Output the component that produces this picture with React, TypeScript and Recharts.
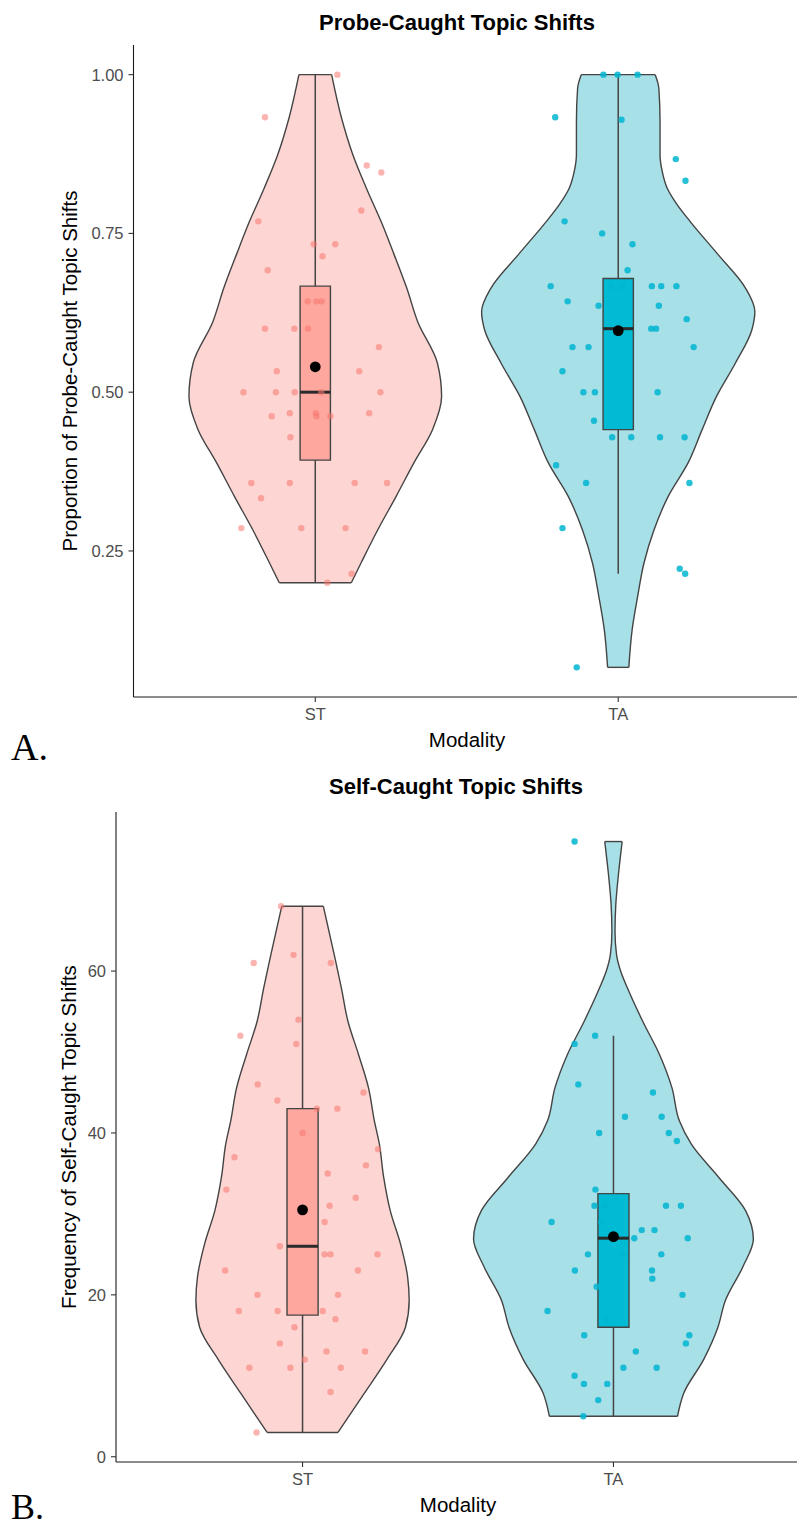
import React from "react";
import {
  ComposedChart,
  Area,
  Scatter,
  XAxis,
  YAxis,
  ReferenceArea,
  ReferenceLine,
} from "recharts";

// x axis groups, placed at 1 and 2 on a numeric axis
const modalities = ["ST", "TA"];

// ---------- A. Probe-caught topic shifts (proportion) ----------
const probeTicks = [0.25, 0.5, 0.75, 1.0];

// violin outlines: value, half width in group units
const probeViolinST_y = [1.0, 0.933, 0.874, 0.822, 0.769, 0.717, 0.664, 0.611, 0.546, 0.493, 0.441, 0.389, 0.336, 0.283, 0.231, 0.2];
const probeViolinST_w = [0.054, 0.086, 0.124, 0.168, 0.217, 0.26, 0.302, 0.338, 0.403, 0.417, 0.387, 0.326, 0.267, 0.206, 0.151, 0.119];
const probeViolinTA_y = [1.0, 0.979, 0.926, 0.874, 0.848, 0.822, 0.795, 0.769, 0.717, 0.664, 0.627, 0.598, 0.546, 0.493, 0.441, 0.389, 0.336, 0.283, 0.231, 0.178, 0.126, 0.0667];
const probeViolinTA_w = [0.122, 0.134, 0.138, 0.138, 0.145, 0.161, 0.195, 0.237, 0.329, 0.42, 0.451, 0.441, 0.387, 0.324, 0.277, 0.231, 0.165, 0.118, 0.085, 0.064, 0.046, 0.035];

// box plot summary, [ST, TA]
const probeLower = [0.2, 0.214];
const probeQ1 = [0.393, 0.441];
const probeMedian = [0.5, 0.6];
const probeQ3 = [0.667, 0.679];
const probeUpper = [1.0, 1.0];
const probeMean = [0.54, 0.597];

// jittered participants: horizontal jitter and value
const probeST_jitter = [0.073, -0.166, 0.17, 0.218, 0.152, -0.188, -0.005, 0.066, 0.024, -0.157, -0.025, 0.004, 0.021, -0.166, -0.069, -0.024, 0.21, -0.127, 0.145, -0.237, -0.13, -0.068, 0.02, 0.215, -0.144, -0.084, 0.002, 0.004, 0.05, 0.178, -0.082, -0.211, -0.084, 0.13, 0.237, -0.179, -0.244, -0.046, 0.1, 0.12, 0.04];
const probeST_vals = [1.0, 0.933, 0.857, 0.846, 0.786, 0.769, 0.733, 0.733, 0.714, 0.692, 0.643, 0.643, 0.643, 0.6, 0.6, 0.6, 0.571, 0.533, 0.533, 0.5, 0.5, 0.5, 0.5, 0.5, 0.462, 0.467, 0.467, 0.462, 0.462, 0.467, 0.429, 0.357, 0.357, 0.357, 0.357, 0.333, 0.286, 0.286, 0.286, 0.214, 0.2];
const probeTA_jitter = [-0.049, -0.002, 0.064, -0.208, 0.011, 0.19, 0.222, -0.177, -0.053, 0.047, 0.031, -0.223, -0.023, 0.013, 0.111, 0.142, 0.192, -0.167, -0.065, 0.134, 0.226, 0.109, 0.125, -0.151, -0.098, 0.249, -0.184, -0.115, -0.077, 0.13, -0.08, -0.02, 0.043, 0.138, 0.219, -0.205, -0.106, 0.235, -0.184, 0.203, 0.221, -0.137];
const probeTA_vals = [1.0, 1.0, 1.0, 0.933, 0.929, 0.867, 0.833, 0.769, 0.75, 0.733, 0.692, 0.667, 0.667, 0.667, 0.667, 0.667, 0.667, 0.643, 0.636, 0.636, 0.615, 0.6, 0.6, 0.571, 0.571, 0.571, 0.533, 0.5, 0.5, 0.5, 0.455, 0.429, 0.429, 0.429, 0.429, 0.385, 0.357, 0.357, 0.286, 0.222, 0.214, 0.0667];

// ---------- B. Self-caught topic shifts (frequency) ----------
const selfTicks = [0, 20, 40, 60];

const selfViolinST_y = [68, 62, 57.9, 53.8, 49.7, 45.6, 41.5, 38.65, 34.5, 30.4, 26.3, 22.2, 19.3, 16, 12, 7.85, 3];
const selfViolinST_w = [0.067, 0.102, 0.125, 0.146, 0.18, 0.212, 0.231, 0.247, 0.261, 0.282, 0.315, 0.338, 0.343, 0.331, 0.271, 0.199, 0.114];
const selfViolinTA_y = [76, 72.3, 68.2, 64.9, 62, 60, 57.9, 53.8, 49.7, 45.6, 41.5, 38.65, 34.5, 30.4, 26.9, 23.45, 19.3, 16, 12, 7.85, 5];
const selfViolinTA_w = [0.028, 0.017, 0.0075, 0.005, 0.01, 0.023, 0.045, 0.094, 0.148, 0.188, 0.212, 0.25, 0.339, 0.425, 0.45, 0.416, 0.36, 0.336, 0.29, 0.226, 0.206];

const selfLower = [3, 5];
const selfQ1 = [17.5, 16];
const selfMedian = [26, 27];
const selfQ3 = [43, 32.5];
const selfUpper = [68, 52];
const selfMean = [30.5, 27.2];

const selfST_jitter = [-0.069, -0.029, -0.157, 0.091, -0.013, -0.2, -0.02, -0.144, -0.081, 0.196, 0.046, 0.112, 0, -0.219, 0.243, 0.204, 0.081, -0.245, 0.171, 0.087, 0.071, -0.073, 0.071, 0.09, 0.241, -0.249, 0.178, -0.145, 0.114, -0.205, -0.08, 0.065, 0.106, -0.026, -0.073, 0.077, 0.201, 0.007, -0.171, -0.039, 0.123, 0.09, -0.148];
const selfST_vals = [68, 62, 61, 61, 54, 52, 51, 46, 44, 45, 43, 43, 40, 37, 38, 36, 35, 33, 32, 31, 29, 26, 25, 25, 25, 23, 23, 20, 20, 18, 18, 18, 17, 16, 14, 13, 13, 12, 11, 11, 11, 8, 3];
const selfTA_jitter = [-0.125, -0.059, -0.125, -0.113, 0.127, 0.037, 0.155, -0.046, 0.178, 0.204, -0.058, 0.005, -0.061, -0.027, 0.169, 0.217, -0.199, -0.039, 0.091, 0.132, 0.067, 0.239, -0.082, 0.031, 0.154, -0.124, 0.124, 0.125, -0.054, 0.222, -0.212, -0.023, 0.244, -0.094, 0.233, 0.072, 0.032, 0.139, -0.125, -0.095, -0.02, -0.049, -0.097];
const selfTA_vals = [76, 52, 51, 46, 45, 42, 42, 40, 40, 39, 33, 32, 31, 31, 31, 31, 29, 29, 28, 28, 27, 27, 25, 25, 25, 23, 23, 22, 21, 20, 18, 17, 15, 15, 14, 13, 11, 11, 10, 9, 9, 7, 5];

// styling
const violinFill = ["#FDD5D2", "#A8E0E8"];
const boxFill = ["#FDA79F", "#00BBD3"];
const pointFill = ["#F8766D", "#00B5D0"];
const pointOpacity = [0.55, 0.85];
const outline = "#444444";
const boxHalf = 0.05;
const font = '"Liberation Sans", Arial, Helvetica, sans-serif';

const tickStyle = { fill: "#4D4D4D", fontSize: 16.5 };
const axisLineStyle = { stroke: "#1a1a1a", strokeWidth: 1.1 };
const tickLineStyle = { stroke: "#333333", strokeWidth: 1.1 };

const dot = (r: number, fill: string, opacity: number) => (props: any) =>
  <circle cx={props.cx} cy={props.cy} r={r} fill={fill} fillOpacity={opacity} />;

function ViolinPanel(p: any) {
  const groups = [0, 1];
  const center = (g: number) => g + 1;
  const violins = groups.map((g) =>
    p.violinY[g].map((y: number, i: number) => ({
      y,
      band: [center(g) - p.violinW[g][i], center(g) + p.violinW[g][i]],
    }))
  );
  const points = groups.map((g) =>
    p.vals[g].map((y: number, i: number) => ({ x: center(g) + p.jitter[g][i], y }))
  );
  const means = groups.map((g) => [{ x: center(g), y: p.mean[g] }]);

  return (
    <ComposedChart
      layout="vertical"
      width={800}
      height={p.height}
      margin={{ top: p.top, right: 0, bottom: 0, left: 0 }}
    >
      <XAxis
        type="number"
        domain={[0.4, 2.6]}
        ticks={[1, 2]}
        tickFormatter={(v: number) => modalities[v - 1]}
        allowDataOverflow
        height={63}
        tickSize={5}
        tickMargin={6}
        tick={tickStyle}
        axisLine={axisLineStyle}
        tickLine={tickLineStyle}
      />
      <YAxis
        type="number"
        dataKey="y"
        reversed
        domain={p.domain}
        ticks={p.ticks}
        tickFormatter={p.fmt}
        allowDataOverflow
        width={p.axisWidth}
        tickSize={5}
        tickMargin={5}
        tick={tickStyle}
        axisLine={axisLineStyle}
        tickLine={tickLineStyle}
      />

      {groups.map((g) => (
        <Area
          key={"v" + g}
          data={violins[g]}
          dataKey="band"
          type="monotone"
          fill={violinFill[g]}
          fillOpacity={1}
          stroke={outline}
          strokeWidth={1.4}
          dot={false}
          activeDot={false}
          isAnimationActive={false}
          zIndex={100}
        />
      ))}

      {groups.map((g) => {
        const last = p.violinY[g].length - 1;
        return [
          <ReferenceLine
            key={"top" + g}
            segment={[
              { x: center(g) - p.violinW[g][0], y: p.violinY[g][0] },
              { x: center(g) + p.violinW[g][0], y: p.violinY[g][0] },
            ]}
            stroke={outline}
            strokeWidth={1.4}
            zIndex={150}
          />,
          <ReferenceLine
            key={"bot" + g}
            segment={[
              { x: center(g) - p.violinW[g][last], y: p.violinY[g][last] },
              { x: center(g) + p.violinW[g][last], y: p.violinY[g][last] },
            ]}
            stroke={outline}
            strokeWidth={1.4}
            zIndex={150}
          />,
          <ReferenceLine
            key={"wh" + g}
            segment={[
              { x: center(g), y: p.lower[g] },
              { x: center(g), y: p.upper[g] },
            ]}
            stroke={outline}
            strokeWidth={1.5}
            zIndex={160}
          />,
        ];
      })}

      {groups.map((g) => (
        <ReferenceArea
          key={"box" + g}
          x1={center(g) - boxHalf}
          x2={center(g) + boxHalf}
          y1={p.q1[g]}
          y2={p.q3[g]}
          fill={boxFill[g]}
          fillOpacity={1}
          stroke={outline}
          strokeWidth={1.4}
          zIndex={200}
        />
      ))}

      {groups.map((g) => (
        <ReferenceLine
          key={"med" + g}
          segment={[
            { x: center(g) - boxHalf, y: p.median[g] },
            { x: center(g) + boxHalf, y: p.median[g] },
          ]}
          stroke="#2b2b2b"
          strokeWidth={3}
          zIndex={250}
        />
      ))}

      {groups.map((g) => (
        <Scatter
          key={"pts" + g}
          data={points[g]}
          dataKey="x"
          shape={dot(3.2, pointFill[g], pointOpacity[g])}
          isAnimationActive={false}
          zIndex={600}
        />
      ))}

      {groups.map((g) => (
        <Scatter
          key={"mean" + g}
          data={means[g]}
          dataKey="x"
          shape={dot(5.4, "#000000", 1)}
          isAnimationActive={false}
          zIndex={700}
        />
      ))}
    </ComposedChart>
  );
}

export default function App() {
  return (
    <div
      style={{
        position: "absolute",
        left: 0,
        top: 0,
        width: 797,
        height: 1528,
        overflow: "hidden",
        background: "#ffffff",
        fontFamily: font,
      }}
    >
      <div style={{ position: "absolute", left: 0, top: 0 }}>
        <ViolinPanel
          height={760}
          top={45}
          axisWidth={133.5}
          domain={[0.02, 1.0467]}
          ticks={probeTicks}
          fmt={(v: number) => v.toFixed(2)}
          violinY={[probeViolinST_y, probeViolinTA_y]}
          violinW={[probeViolinST_w, probeViolinTA_w]}
          lower={probeLower}
          q1={probeQ1}
          median={probeMedian}
          q3={probeQ3}
          upper={probeUpper}
          mean={probeMean}
          jitter={[probeST_jitter, probeTA_jitter]}
          vals={[probeST_vals, probeTA_vals]}
        />
      </div>
      <div style={{ position: "absolute", left: 0, top: 770 }}>
        <ViolinPanel
          height={755}
          top={42}
          axisWidth={116}
          domain={[-0.65, 79.65]}
          ticks={selfTicks}
          fmt={(v: number) => String(v)}
          violinY={[selfViolinST_y, selfViolinTA_y]}
          violinW={[selfViolinST_w, selfViolinTA_w]}
          lower={selfLower}
          q1={selfQ1}
          median={selfMedian}
          q3={selfQ3}
          upper={selfUpper}
          mean={selfMean}
          jitter={[selfST_jitter, selfTA_jitter]}
          vals={[selfST_vals, selfTA_vals]}
        />
      </div>

      {/* titles, axis titles and panel tags */}
      <svg
        width={797}
        height={1528}
        style={{ position: "absolute", left: 0, top: 0, pointerEvents: "none" }}
      >
        <text x={457} y={29.5} textAnchor="middle" fontSize={22} fontWeight="bold" fill="#000">
          Probe-Caught Topic Shifts
        </text>
        <text
          x={77}
          y={371}
          textAnchor="middle"
          fontSize={20.5}
          fill="#000"
          transform="rotate(-90, 77, 371)"
        >
          Proportion of Probe-Caught Topic Shifts
        </text>
        <text x={467} y={746.5} textAnchor="middle" fontSize={20.5} fill="#000">
          Modality
        </text>
        <text x={11} y={760} fontSize={38} fill="#000" fontFamily='"Liberation Serif", "Times New Roman", serif'>
          A.
        </text>

        <text x={456} y={794} textAnchor="middle" fontSize={22} fontWeight="bold" fill="#000">
          Self-Caught Topic Shifts
        </text>
        <text
          x={76}
          y={1137}
          textAnchor="middle"
          fontSize={20.5}
          fill="#000"
          transform="rotate(-90, 76, 1137)"
        >
          Frequency of Self-Caught Topic Shifts
        </text>
        <text x={458} y={1511.5} textAnchor="middle" fontSize={20.5} fill="#000">
          Modality
        </text>
        <text x={11} y={1519} fontSize={36} fill="#000" fontFamily='"Liberation Serif", "Times New Roman", serif'>
          B.
        </text>
      </svg>
    </div>
  );
}
